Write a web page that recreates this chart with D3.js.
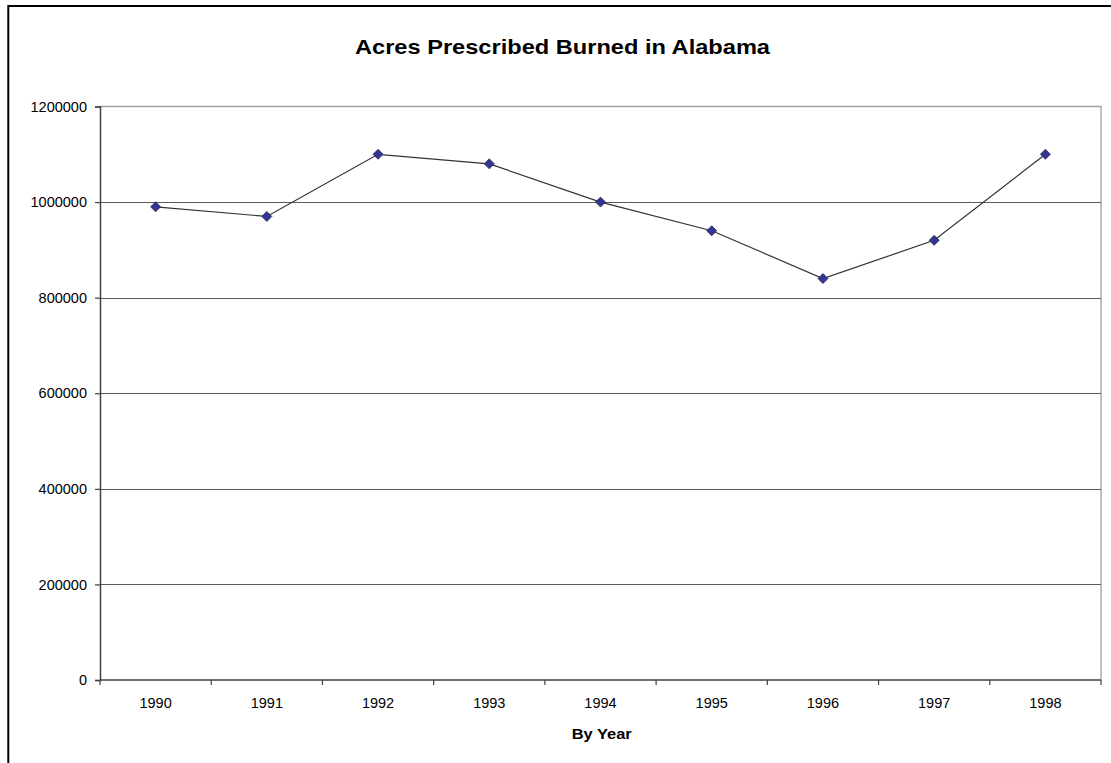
<!DOCTYPE html>
<html>
<head>
<meta charset="utf-8">
<script src="https://cdn.jsdelivr.net/npm/d3@7"></script>
<style>
  html, body { margin: 0; padding: 0; background: #fff; }
  svg { display: block; }
  text { font-family: Arial, "Liberation Sans", sans-serif; fill: #000; }
</style>
</head>
<body>
<svg id="chart" width="1111" height="763"></svg>
<script>
// Acres prescribed burned per year in Alabama
const years = ["1990", "1991", "1992", "1993", "1994", "1995", "1996", "1997", "1998"];
const acres = [990000, 970000, 1100000, 1080000, 1000000, 940000, 840000, 920000, 1100000];
const yTicks = [0, 200000, 400000, 600000, 800000, 1000000, 1200000];

const titleText = "Acres Prescribed Burned in Alabama";
const xTitleText = "By Year";

const W = 1111, H = 763;
const plot = { left: 100, right: 1101, top: 106.5, bottom: 680 };

const svg = d3.select("#chart");

// Outer chart frame
svg.append("rect")
  .attr("x", 8.3).attr("y", 6)
  .attr("width", 1120).attr("height", 780)
  .attr("fill", "#fff")
  .attr("stroke", "#000")
  .attr("stroke-width", 2);

const x = d3.scaleBand().domain(years).range([plot.left, plot.right]).padding(0);
const y = d3.scaleLinear().domain([0, 1200000]).range([plot.bottom, plot.top]);

// Plot area border (top and right)
svg.append("path")
  .attr("d", `M${plot.left},${plot.top}H${plot.right}V${plot.bottom}`)
  .attr("fill", "none")
  .attr("stroke", "#a0a0a0")
  .attr("stroke-width", 1.3);

// Horizontal gridlines
svg.append("g")
  .selectAll("line")
  .data(yTicks.filter(d => d > 0 && d < 1200000))
  .join("line")
  .attr("x1", plot.left).attr("x2", plot.right)
  .attr("y1", d => Math.round(y(d)) + 0.5).attr("y2", d => Math.round(y(d)) + 0.5)
  .attr("stroke", "#5a5a5a")
  .attr("stroke-width", 1.1);

// Y axis
const yAxis = svg.append("g")
  .attr("transform", `translate(${plot.left},0)`)
  .call(d3.axisLeft(y).tickValues(yTicks).tickFormat(d3.format("d")).tickSize(5).tickPadding(8));
yAxis.select(".domain").attr("stroke", "#404040").attr("stroke-width", 1.5);
yAxis.selectAll(".tick line").attr("stroke", "#404040").attr("stroke-width", 1.2);
yAxis.selectAll("text").attr("font-size", "14.5px").attr("fill", "#000")
  .attr("font-family", "Arial, 'Liberation Sans', sans-serif");

// X axis: ticks at category boundaries, labels centred in each band
const xg = svg.append("g").attr("transform", `translate(0,${plot.bottom})`);
xg.append("line")
  .attr("x1", plot.left).attr("x2", plot.right)
  .attr("stroke", "#404040").attr("stroke-width", 1.5);
const boundaries = years.map(d => x(d)).concat([x(years[years.length - 1]) + x.bandwidth()]);
xg.selectAll("line.tk")
  .data(boundaries)
  .join("line")
  .attr("class", "tk")
  .attr("x1", d => d).attr("x2", d => d)
  .attr("y1", 0).attr("y2", 5)
  .attr("stroke", "#404040").attr("stroke-width", 1.2);
xg.selectAll("text")
  .data(years)
  .join("text")
  .attr("x", d => x(d) + x.bandwidth() / 2)
  .attr("y", 28)
  .attr("text-anchor", "middle")
  .attr("font-size", "14.5px")
  .text(d => d);

// Series line
const line = d3.line()
  .x((d, i) => x(years[i]) + x.bandwidth() / 2)
  .y(d => y(d));
svg.append("path")
  .datum(acres)
  .attr("d", line)
  .attr("fill", "none")
  .attr("stroke", "#333")
  .attr("stroke-width", 1.2);

// Diamond markers
svg.append("g")
  .selectAll("path")
  .data(acres)
  .join("path")
  .attr("transform", (d, i) => `translate(${x(years[i]) + x.bandwidth() / 2},${y(d)})`)
  .attr("d", "M0,-5L5,0L0,5L-5,0Z")
  .attr("fill", "#333399")
  .attr("stroke", "#2a2a40")
  .attr("stroke-width", 0.8);

// Title
svg.append("text")
  .attr("x", 562.5).attr("y", 54)
  .attr("text-anchor", "middle")
  .attr("font-size", "20.5px")
  .attr("font-weight", "bold")
  .attr("textLength", 415)
  .attr("lengthAdjust", "spacingAndGlyphs")
  .text(titleText);

// X axis title
svg.append("text")
  .attr("x", 601.7).attr("y", 739)
  .attr("text-anchor", "middle")
  .attr("font-size", "14px")
  .attr("font-weight", "bold")
  .attr("textLength", 60)
  .attr("lengthAdjust", "spacingAndGlyphs")
  .text(xTitleText);
</script>
</body>
</html>
